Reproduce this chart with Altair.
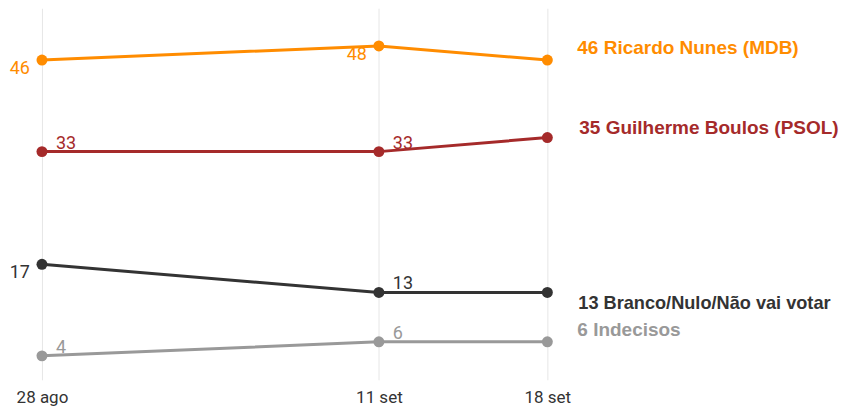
import altair as alt
import pandas as pd

dates = ["2024-08-28", "2024-09-11", "2024-09-18"]
date_labels = ["28 ago", "11 set", "18 set"]
series = ["Ricardo Nunes (MDB)", "Guilherme Boulos (PSOL)", "Branco/Nulo/Não vai votar", "Indecisos"]
colors = ["#ff8c00", "#a52a2a", "#333333", "#999999"]
nunes = [46, 48, 46]
boulos = [33, 33, 35]
branco = [17, 13, 13]
indecisos = [4, 6, 6]
# which side each point's value label sits on ("lb" = left/below, "ra" = right/above, "" = none)
label_side = {
    "Ricardo Nunes (MDB)": ["lb", "lb", ""],
    "Guilherme Boulos (PSOL)": ["ra", "ra", ""],
    "Branco/Nulo/Não vai votar": ["lb", "ra", ""],
    "Indecisos": ["ra", "ra", ""],
}
end_dy = [-12, -10, 12, -12]
end_dx = [30, 32, 31, 30]
end_size = [19, 19, 18.2, 19]

values = [nunes, boulos, branco, indecisos]
rows = []
for s, vals in zip(series, values):
    for i, (d, v, side) in enumerate(zip(dates, vals, label_side[s])):
        rows.append({"date": d, "series": s, "value": v, "side": side,
                     "last": i == len(dates) - 1})
df = pd.DataFrame(rows)

label_map = "{" + ",".join(f"'{d}':'{l}'" for d, l in zip(dates, date_labels)) + "}"

def dt(s):
    y, m, d = map(int, s.split("-"))
    return alt.DateTime(year=y, month=m, date=d, utc=True)

x = alt.X(
    "date:T",
    scale=alt.Scale(type="utc", domain=[dt(dates[0]), dt(dates[-1])]),
    axis=alt.Axis(
        values=[dt(d) for d in dates],
        labelExpr=f"{label_map}[utcFormat(datum.value, '%Y-%m-%d')]",
        title=None, domain=False, ticks=False, grid=True,
        gridColor="#e6e6e6", gridWidth=1,
        labelFont="Roboto", labelFontSize=17, labelColor="#333333",
        labelPadding=10, labelAlign="center",
    ),
)
y = alt.Y("value:Q", scale=alt.Scale(domain=[0.6, 53.36], nice=False, zero=False), axis=None)
color = alt.Color("series:N", scale=alt.Scale(domain=series, range=colors), legend=None)

base = alt.Chart(df).encode(x=x, y=y, color=color)

line = base.mark_line(strokeWidth=3)
pts = base.mark_circle(size=120, opacity=1)

lb = base.transform_filter("datum.side == 'lb'").mark_text(
    align="right", baseline="middle", dx=-12, dy=9, font="Roboto", fontSize=18
).encode(text="value:Q")
ra = base.transform_filter("datum.side == 'ra'").mark_text(
    align="left", baseline="middle", dx=14, dy=-8, font="Roboto", fontSize=18
).encode(text="value:Q")

ends = []
for s, ddy, ddx, fs in zip(series, end_dy, end_dx, end_size):
    ends.append(
        base.transform_filter(f"datum.series == '{s}' && datum.last")
        .transform_calculate(lab="datum.value + ' ' + datum.series")
        .mark_text(align="left", baseline="middle", dx=ddx, dy=ddy,
                   font="Liberation Sans", fontSize=fs, fontWeight="bold")
        .encode(text="lab:N")
    )

chart = alt.layer(line, pts, lb, ra, *ends).properties(
    width=506, height=372,
    autosize=alt.AutoSizeParams(type="none"),
    padding={"left": 34, "top": 0, "right": 292, "bottom": 27},
).configure_view(stroke=None)

chart.save("out.html", embed_options={"renderer": "svg", "actions": False})
